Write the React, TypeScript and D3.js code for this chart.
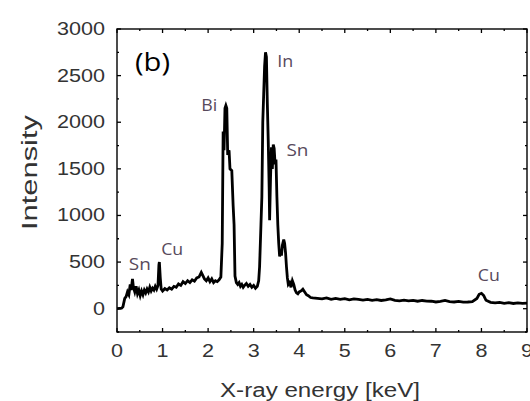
import * as d3 from 'd3';

// EDS spectrum
const energy = [
  0.0, 0.1, 0.13, 0.17, 0.2, 0.23, 0.26, 0.29, 0.31, 0.34, 0.36, 0.39, 0.42, 0.45, 0.48,
  0.51, 0.54, 0.57, 0.6, 0.63, 0.66, 0.69, 0.72, 0.75, 0.78, 0.81, 0.84, 0.87, 0.9, 0.92,
  0.93, 0.95, 0.97, 1.0, 1.05, 1.1, 1.15, 1.2, 1.25, 1.3, 1.35, 1.4, 1.45, 1.5, 1.55,
  1.6, 1.65, 1.7, 1.75, 1.8, 1.85, 1.88, 1.92, 1.96, 2.0, 2.04, 2.08, 2.12, 2.16, 2.2,
  2.24, 2.28, 2.31, 2.33, 2.35, 2.37, 2.39, 2.41, 2.43, 2.46, 2.48, 2.52, 2.55, 2.57, 2.59,
  2.62, 2.65, 2.68, 2.71, 2.74, 2.77, 2.8, 2.84, 2.88, 2.92, 2.96, 3.0, 3.04, 3.08, 3.11,
  3.13, 3.16, 3.18, 3.2, 3.22, 3.24, 3.26, 3.28, 3.3, 3.32, 3.34, 3.35, 3.37, 3.39, 3.41,
  3.43, 3.45, 3.47, 3.49, 3.51, 3.53, 3.55, 3.57, 3.59, 3.61, 3.63, 3.66, 3.68, 3.7, 3.72,
  3.74, 3.76, 3.79, 3.82, 3.85, 3.88, 3.91, 3.94, 3.97, 4.0, 4.04, 4.08, 4.12, 4.16, 4.2,
  4.25, 4.3, 4.4, 4.5, 4.6, 4.7, 4.8, 4.9, 5.0, 5.1, 5.2, 5.3, 5.4, 5.5, 5.6,
  5.7, 5.8, 5.9, 6.0, 6.1, 6.2, 6.3, 6.4, 6.5, 6.6, 6.7, 6.8, 6.9, 7.0, 7.1,
  7.2, 7.3, 7.4, 7.5, 7.6, 7.7, 7.8, 7.9, 7.95, 8.0, 8.05, 8.1, 8.2, 8.3, 8.4,
  8.5, 8.6, 8.7, 8.8, 8.9, 9.0,
];
const intensity = [
  0, 5, 20, 110, 130, 180, 150, 260, 200, 320, 230, 180, 240, 160, 200,
  140, 190, 150, 200, 170, 210, 180, 230, 190, 220, 200, 240, 210, 250, 470,
  500, 330, 210, 190, 215, 200, 225, 210, 240, 230, 265, 250, 290, 270, 300,
  280, 310, 295, 330, 340, 390, 360, 320, 300, 330, 290, 320, 280, 300, 290,
  310, 340, 700, 1900, 1700, 2150, 2180, 2150, 1650, 1700, 1500, 1480, 1100, 900, 350,
  280, 260, 280, 240, 260, 230, 250, 270, 240, 260, 230, 250, 220, 240, 300,
  450, 900, 1200, 2000, 2300, 2600, 2750, 2700, 2200, 1800, 1300, 950, 1400, 1730, 1500,
  1760, 1720, 1550, 1600, 1200, 900, 700, 560, 620, 570, 680, 740, 700, 600, 450,
  330, 260, 280, 230, 300, 260, 200, 170, 160, 180, 190, 210, 180, 150, 140,
  120, 115, 110, 105, 115, 100, 110, 100, 108, 95, 105, 100, 92, 100, 90,
  98, 88, 95, 105, 90, 85, 92, 85, 90, 80, 88, 82, 80, 72, 78,
  88, 75, 72, 78, 70, 72, 76, 110, 155, 165, 140, 90, 68, 62, 68,
  58, 65, 56, 62, 58, 60,
];

const xTicks = [0, 1, 2, 3, 4, 5, 6, 7, 8, 9];
const yTicks = [0, 500, 1000, 1500, 2000, 2500, 3000];

const peakNames = ['Sn', 'Cu', 'Bi', 'In', 'Sn', 'Cu'];
const peakEnergy = [0.26, 0.97, 1.85, 3.52, 3.72, 7.92];
const peakIntensity = [415, 573, 2123, 2596, 1638, 297];

export default function App() {
  const left = 117, right = 527, top = 29, bottom = 332;
  const x = d3.scaleLinear().domain([0, 9]).range([left, right]);
  const y = d3.scaleLinear().domain([-250, 3000]).range([bottom, top]);

  const pts: [number, number][] = energy.map((e, i) => [e, intensity[i]]);
  const line = d3.line<[number, number]>()
    .x(d => x(d[0]))
    .y(d => y(d[1]));

  const xMinor = d3.range(0.5, 9, 1);
  const yMinor = d3.range(-250, 3000, 500);
  const tickColor = '#000';
  const labelFont = "'Liberation Sans', Arial, sans-serif";

  return (
    <svg width={530} height={401} style={{ position: 'absolute', left: 0, top: 0, background: '#fff' }}>
      <rect x={0} y={0} width={530} height={401} fill="#fff" />
      <path d={line(pts) || ''} fill="none" stroke="#000" strokeWidth={2.8} strokeLinejoin="miter" />

      {/* frame */}
      <rect x={left} y={top} width={right - left} height={bottom - top} fill="none" stroke="#000" strokeWidth={1.4} />

      {xTicks.map(t => (
        <g key={'xt' + t}>
          <line x1={x(t)} x2={x(t)} y1={bottom} y2={bottom - 4} stroke={tickColor} strokeWidth={1.3} />
          <line x1={x(t)} x2={x(t)} y1={top} y2={top + 4} stroke={tickColor} strokeWidth={1.3} />
          <text x={x(t)} y={357} fontSize={19} fontFamily={labelFont} fill="#333" textAnchor="middle"
            textLength={12} lengthAdjust="spacingAndGlyphs">{t}</text>
        </g>
      ))}
      {xMinor.map(t => (
        <g key={'xm' + t}>
          <line x1={x(t)} x2={x(t)} y1={bottom} y2={bottom - 2} stroke={tickColor} strokeWidth={1.3} />
          <line x1={x(t)} x2={x(t)} y1={top} y2={top + 2} stroke={tickColor} strokeWidth={1.3} />
        </g>
      ))}
      {yTicks.map(t => (
        <g key={'yt' + t}>
          <line x1={left} x2={left + 4} y1={y(t)} y2={y(t)} stroke={tickColor} strokeWidth={1.3} />
          <line x1={right} x2={right - 4} y1={y(t)} y2={y(t)} stroke={tickColor} strokeWidth={1.3} />
          <text x={105} y={y(t) + 6} fontSize={19} fontFamily={labelFont} fill="#333" textAnchor="end"
            textLength={12 * String(t).length} lengthAdjust="spacingAndGlyphs">{t}</text>
        </g>
      ))}
      {yMinor.map(t => (
        <g key={'ym' + t}>
          <line x1={left} x2={left + 2} y1={y(t)} y2={y(t)} stroke={tickColor} strokeWidth={1.3} />
          <line x1={right} x2={right - 2} y1={y(t)} y2={y(t)} stroke={tickColor} strokeWidth={1.3} />
        </g>
      ))}

      <text x={220} y={397} fontSize={19.5} fontFamily={labelFont} fill="#333"
        textLength={200} lengthAdjust="spacingAndGlyphs">X-ray energy [keV]</text>
      <text transform="translate(37,230) rotate(-90)" fontSize={22} fontFamily={labelFont} fill="#333"
        textLength={115} lengthAdjust="spacingAndGlyphs">Intensity</text>

      <text x={135} y={71} fontSize={25} fontFamily="'Open Sans', sans-serif" fill="#000"
        textLength={35} lengthAdjust="spacingAndGlyphs">(b)</text>

      {peakNames.map((n, i) => (
        <text key={'pk' + i} x={x(peakEnergy[i])} y={y(peakIntensity[i])} fontSize={17}
          fontFamily="'Open Sans', sans-serif" fill="#584a5c"
          textLength={n === 'Bi' || n === 'In' ? 16 : 22} lengthAdjust="spacingAndGlyphs">{n}</text>
      ))}
    </svg>
  );
}
